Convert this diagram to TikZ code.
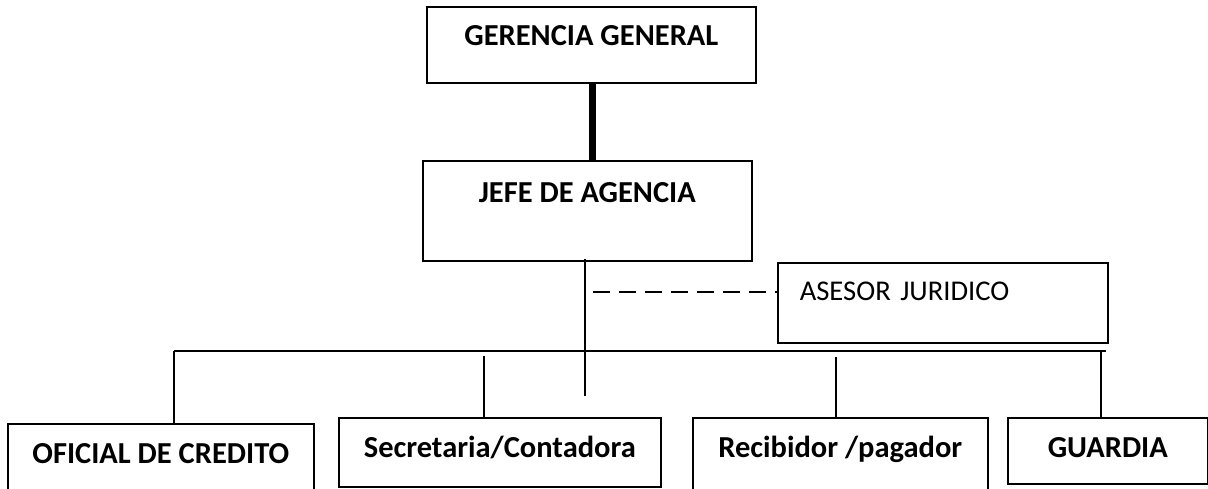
\documentclass[tikz,border=0pt]{standalone}
\usepackage{fontspec}
\setmainfont{Carlito}
\usepackage{tikz}
\tikzset{caja/.style={draw, line width=1.6pt, inner sep=0pt, anchor=north west, align=center,
    font=\bfseries\fontsize{30.5}{36}\selectfont},
  linea/.style={line width=1.6pt},
  grueso/.style={line width=7pt},
  rayas/.style={line width=2pt, dash pattern=on 17pt off 9pt}}
\usetikzlibrary{positioning}

\begin{document}
\begin{tikzpicture}[x=1pt, y=-1pt]
\useasboundingbox (0,0) rectangle (1208,488);
\clip (0,0) rectangle (1208,488);

  \node[caja, minimum width=329pt, text height=39pt, text depth=37pt] (gerencia) at (426,6) {GERENCIA GENERAL};
  \node[caja, minimum width=329pt, text height=42pt, text depth=58pt] (jefe) at (422,160) {JEFE DE AGENCIA};
  \node[caja, font=\fontsize{28.6}{34}\selectfont, align=left, inner xsep=22pt, text width=286pt,
    text height=38pt, text depth=42pt] (asesor) at (777,262) {ASESOR JURIDICO};

  \node[caja, minimum width=306pt, text height=40pt, text depth=37pt] (oficial) at (7,423) {OFICIAL DE CREDITO};
  \node[caja, minimum width=322pt, text height=40pt, text depth=29pt] (secre) at (338,417) {Secretaria/Contadora};
  \node[caja, minimum width=295pt, text height=40pt, text depth=38pt] (recib) at (692,417) {Recibidor /pagador};
  \node[caja, minimum width=200pt, text height=40pt, text depth=26pt] (guardia) at (1007,417) {GUARDIA};

  \draw[grueso] ([xshift=1.5pt]gerencia.south) -- ([xshift=1.5pt]gerencia.south |- jefe.north);

  \coordinate (fin) at (585,396);
  \draw[linea] ([yshift=3pt]jefe.south -| fin) -- (fin);
  \coordinate (raya) at (593,292);
  \draw[rayas] (raya) -- (raya -| asesor.west);

  \coordinate (barizq) at (174,351);
  \coordinate (barder) at (1106,351);
  \draw[linea] (barizq) -- (barder);
  \draw[linea] (barizq) -- (barizq |- oficial.north);

\foreach \x/\y/\b in {484/356/secre, 836/357/recib, 1101/350/guardia}{
  \coordinate (baja) at (\x,\y);
  \draw[linea] (baja) -- (baja |- \b.north);
}
\end{tikzpicture}
\end{document}
